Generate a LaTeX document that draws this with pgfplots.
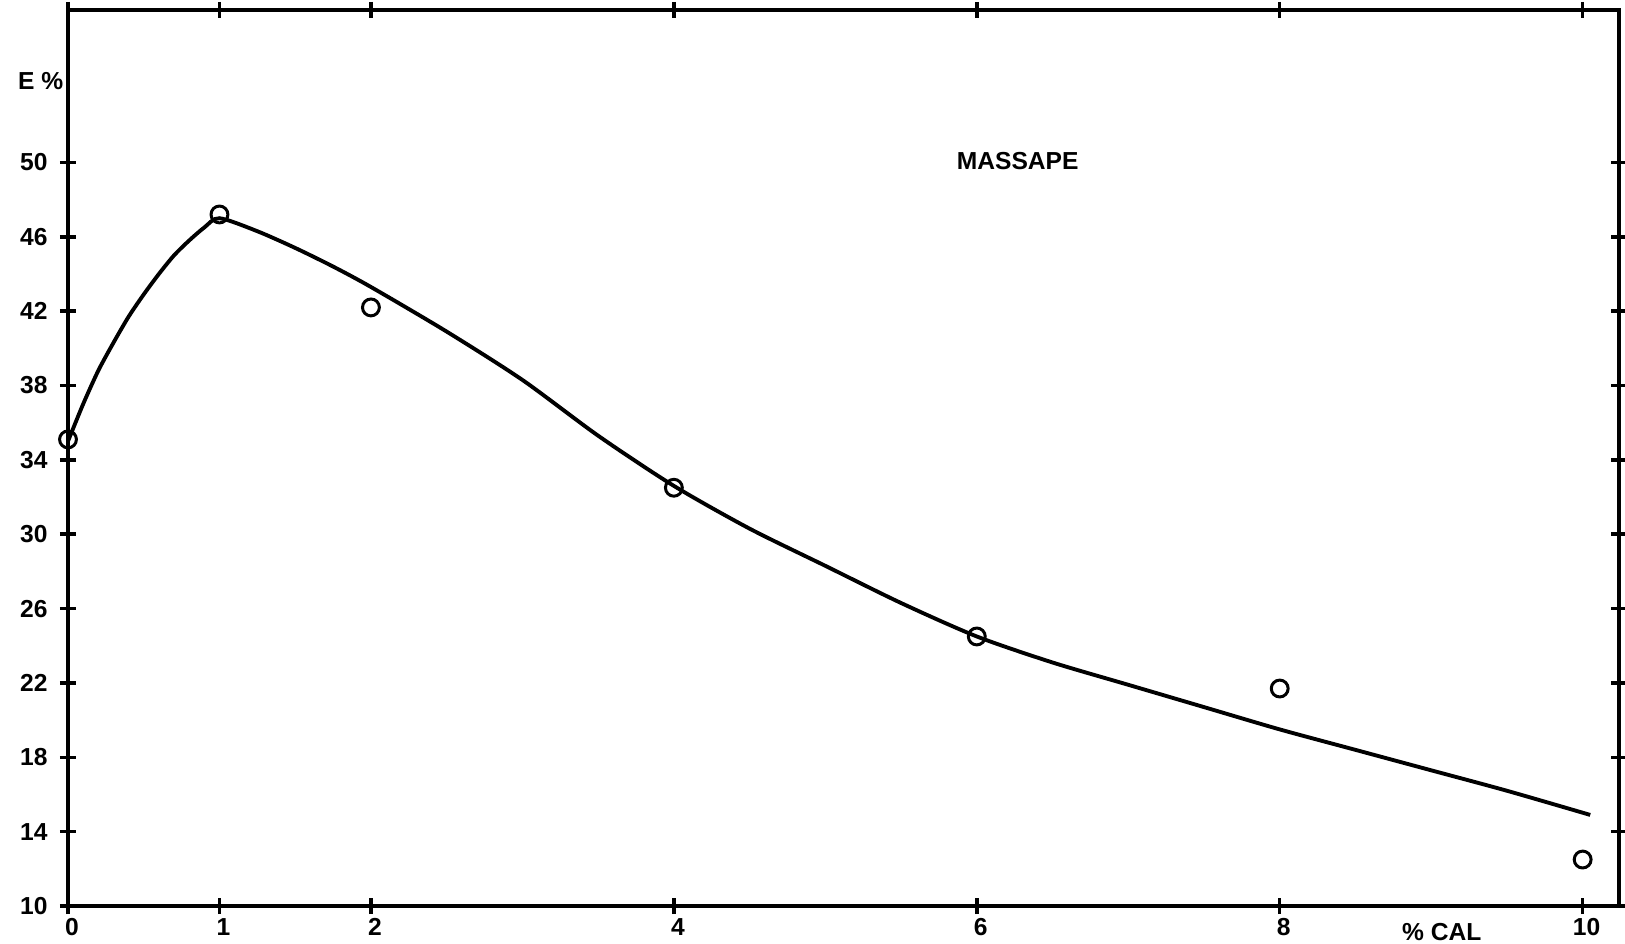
\documentclass[border=0pt]{standalone}
\usepackage{pgfplots}
\pgfplotsset{compat=1.18}
\usepackage{fontspec}
\setmainfont{Liberation Sans}
\begin{document}
\begin{tikzpicture}
\useasboundingbox (-0.68cm,-0.37cm) rectangle (15.57cm,9.06cm);
\begin{axis}[
  scale only axis, width=15.51cm, height=8.96cm,
  xmin=0, xmax=10.24, ymin=10, ymax=58.2,
  xtick={0,1,2,4,6,8,10}, ytick={10,14,...,50},
  tick align=center, major tick length=0.16cm,
  axis line style={line width=1.2pt},
  tick style={line width=1pt, black},
  ticklabel style={font=\fontsize{7}{8}\selectfont\bfseries},
  xticklabel style={yshift=0.08cm, xshift=0.04cm},
  /pgf/number format/assume math mode=true,
  clip=false,
]
% fitted curve
\addplot[line width=1.1pt, smooth, tension=0.45] coordinates {
  (0,35.0) (0.1,37.0) (0.2,38.8) (0.3,40.3) (0.4,41.7) (0.5,42.9)
  (0.6,44.0) (0.7,45.0) (0.8,45.8) (0.9,46.5) (1,47.0)
  (1.25,46.3) (1.5,45.4) (1.75,44.4) (2,43.3) (2.5,40.9) (3,38.3)
  (3.5,35.3) (4,32.6) (4.5,30.3) (5,28.3) (5.5,26.3) (6,24.5)
  (6.5,23.1) (7,21.9) (7.5,20.7) (8,19.5) (8.5,18.4) (9,17.3)
  (9.5,16.2) (10.05,14.9)
};
% measured values
\addplot[only marks, mark=o, mark size=2.4pt, mark options={line width=0.85pt}] coordinates {
  (0,35.1) (1,47.2) (2,42.2) (4,32.5) (6,24.5) (8,21.7) (10,12.5)
};
\node[font=\fontsize{7}{8}\selectfont\bfseries] at (axis cs:6.27,50.1) {MASSAPE};
\node[font=\fontsize{7}{8}\selectfont\bfseries] at (axis cs:-0.18,54.4) {E \%};
\node[font=\fontsize{7}{8}\selectfont\bfseries] at (axis cs:9.07,8.6) {\% CAL};
\end{axis}
\end{tikzpicture}
\end{document}
